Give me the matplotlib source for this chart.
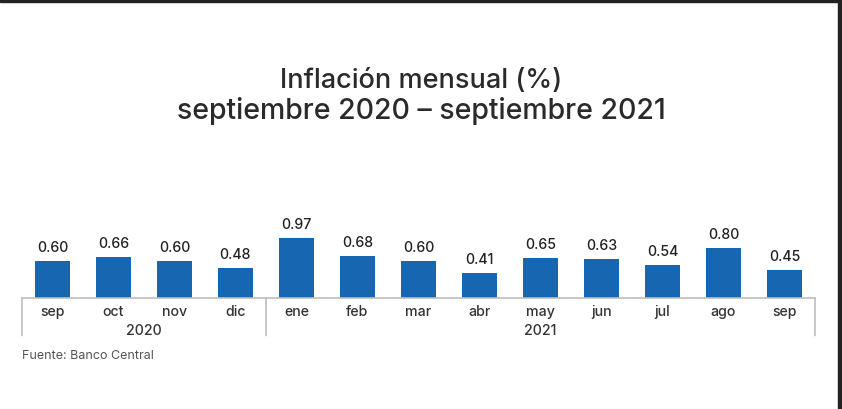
import matplotlib
matplotlib.use("Agg")
import matplotlib.pyplot as plt
from matplotlib.patches import Rectangle
import matplotlib.transforms as mtransforms

months = ["sep", "oct", "nov", "dic", "ene", "feb", "mar", "abr", "may", "jun", "jul", "ago", "sep"]
values = [0.60, 0.66, 0.60, 0.48, 0.97, 0.68, 0.60, 0.41, 0.65, 0.63, 0.54, 0.80, 0.45]
years = ["2020", "2021"]
year_counts = [4, 9]

plt.rcParams['font.family'] = ['Inter', 'DejaVu Sans']
W, H = 842, 410
fig = plt.figure(figsize=(W / 100, H / 100), dpi=100)
fig.patch.set_facecolor("white")

# dark frame strips of the screenshot
fig.patches.append(Rectangle((0, 1 - 3 / H), 1, 3 / H, transform=fig.transFigure,
                             color="#222222", zorder=0))
fig.patches.append(Rectangle((838 / W, 0), 4 / W, 1, transform=fig.transFigure,
                             color="#222222", zorder=0))

ax = fig.add_axes([22 / W, 111 / H, 793 / W, 119 / H])
x = list(range(len(values)))
bars = ax.bar(x, values, width=0.59, color="#1766b1")
ax.set_xlim(-0.5, len(values) - 0.5)
ax.set_ylim(0, 1.92)

for rect, v in zip(bars, values):
    ax.annotate(f"{v:.2f}", (rect.get_x() + rect.get_width() / 2, v),
                xytext=(0, 5), textcoords="offset points", ha="center", va="bottom",
                fontsize=10.2, fontweight=500, color="#222222")

for s in ["top", "right", "left"]:
    ax.spines[s].set_visible(False)
ax.spines["bottom"].set_color("#bdbdbd")
ax.spines["bottom"].set_linewidth(1.2)
ax.set_yticks([])
ax.set_xticks(x)
ax.set_xticklabels(months, fontsize=10.2, fontweight=500, color="#333333")
ax.tick_params(axis="x", length=0, pad=4)

# group separators and year labels
trans = mtransforms.blended_transform_factory(ax.transData, ax.transAxes)
edges = [-0.5]
for c in year_counts:
    edges.append(edges[-1] + c)
for e in edges:
    ax.annotate("", xy=(e, 0), xycoords=trans, xytext=(0, -27), textcoords="offset points",
                arrowprops=dict(arrowstyle="-", color="#bdbdbd", lw=1.2,
                                shrinkA=0, shrinkB=0), annotation_clip=False)
for i, yr in enumerate(years):
    mid = (edges[i] + edges[i + 1]) / 2
    ax.annotate(yr, (mid, 0), xycoords=trans, xytext=(0, -18), textcoords="offset points",
                ha="center", va="top", fontsize=10.2, fontweight=500, color="#333333")

fig.text(0.5, 1 - 81 / H, "Inflación mensual (%)", ha="center", va="center",
         fontsize=19.5, fontweight=500, color="#2a2a2a")
fig.text(0.5, 1 - 111 / H, "septiembre 2020 – septiembre 2021", ha="center", va="center",
         fontsize=20.5, fontweight=500, color="#2a2a2a")
fig.text(22 / W, 1 - 356 / H, "Fuente: Banco Central", ha="left", va="center",
         fontsize=9, color="#555555")

fig.savefig("out.png", dpi=100)
